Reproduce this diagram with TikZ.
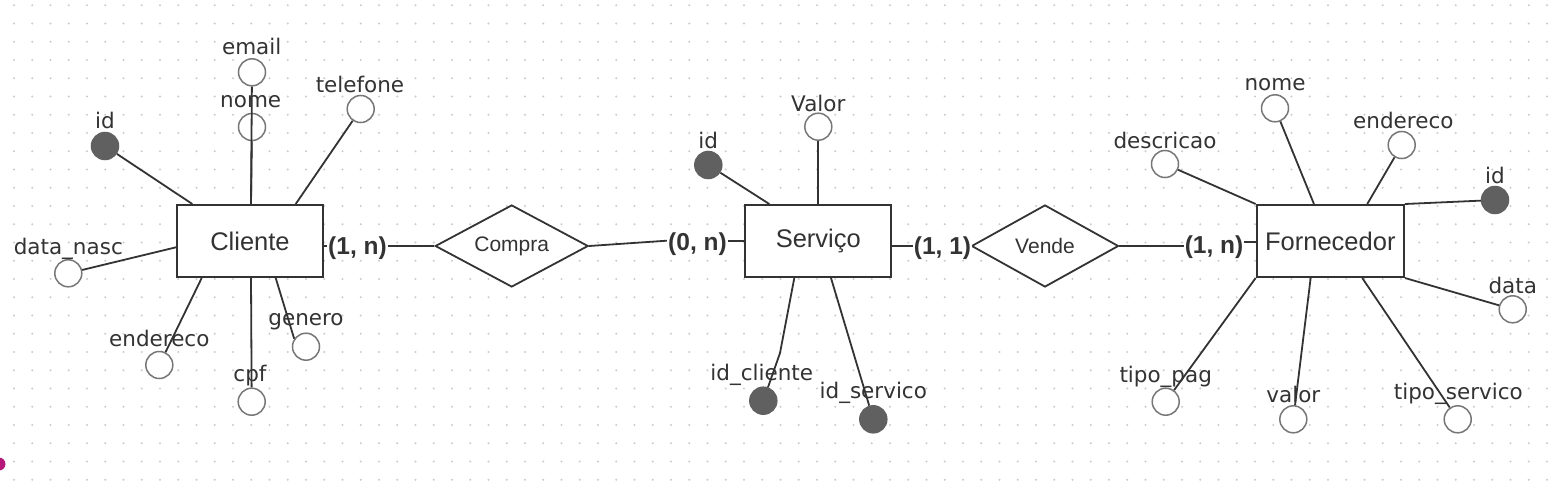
\documentclass[tikz,border=0pt]{standalone}
\usepackage{fontspec}
\setmainfont{Liberation Sans}
\newfontfamily\attrfont{DejaVu Sans}
\usetikzlibrary{shapes.geometric}
\definecolor{linec}{HTML}{333333}
\definecolor{circc}{HTML}{777777}
\definecolor{keyc}{HTML}{606060}
\definecolor{dotc}{HTML}{CCCCCC}
\definecolor{txtc}{HTML}{333333}
\definecolor{pinkc}{HTML}{B5197A}
\begin{document}
\begin{tikzpicture}[x=1pt,y=-1pt,
 entity/.style={draw=linec, line width=2pt, fill=white, minimum width=146pt, minimum height=72pt, inner sep=0pt, text=txtc, font=\fontsize{25.5}{30}\selectfont},
 relation/.style={diamond, draw=linec, line width=1.8pt, fill=white, aspect=1.87, inner sep=0pt, minimum height=82pt, text=txtc, font=\fontsize{21}{25}\selectfont},
 attr/.style={circle, draw=circc, line width=1.5pt, fill=white, minimum size=27pt, inner sep=0pt},
 keyattr/.style={attr, fill=keyc, draw=keyc},
 alabel/.style={inner sep=0pt, text=txtc, font=\attrfont\fontsize{21.5}{25}\selectfont},
 card/.style={fill=white, inner sep=1pt, text=txtc, font=\bfseries\fontsize{24.5}{28}\selectfont},
 link/.style={draw=linec, line width=1.8pt},
]
\useasboundingbox (0,0) rectangle (1558,498);
\fill[white] (0,0) rectangle (1558,498);
\foreach \i in {0,...,84} {\foreach \j in {0,...,26} {\fill[dotc] (14+\i*18.25, 5.2+\j*18.25) circle (1.1pt);}}
\fill[pinkc] (-1,464) circle (6.5pt);

% entities and relationships
\node[entity] (cliente) at (250,241) {Cliente};
\node[relation, minimum width=153pt] (compra) at (511.7,246) {Compra};
\node[entity] (servico) at (818.3,241) {Serviço};
\node[relation, minimum width=147pt] (vende) at (1045,246) {Vende};
\node[entity, minimum width=147.3pt] (forn) at (1330.3,241) {Fornecedor};

% Cliente attributes
\node[attr] (c_email) at (252,72.3) {};
\node[attr] (c_nome) at (252,127) {};
\node[attr] (c_tel) at (360.7,109) {};
\node[keyattr] (c_id) at (105,146) {};
\node[attr] (c_dn) at (68.3,273.3) {};
\node[attr] (c_end) at (159.3,365) {};
\node[attr] (c_cpf) at (251.7,401.7) {};
\node[attr] (c_gen) at (306,346.7) {};

% Servico attributes
\node[attr] (s_valor) at (818.3,126.7) {};
\node[keyattr] (s_id) at (708.3,165) {};
\node[keyattr] (s_idc) at (763.3,400.7) {};
\node[keyattr] (s_ids) at (873.3,419.3) {};

% Fornecedor attributes
\node[attr] (f_nome) at (1275,108.3) {};
\node[attr] (f_end) at (1401.7,145) {};
\node[attr] (f_desc) at (1165,164) {};
\node[keyattr] (f_id) at (1495,200) {};
\node[attr] (f_data) at (1512.7,309.3) {};
\node[attr] (f_tp) at (1165.7,401.7) {};
\node[attr] (f_valor) at (1293.3,419.3) {};
\node[attr] (f_ts) at (1457.7,419.3) {};

\coordinate (w1) at (666.7,240.7);
\coordinate (w2) at (1214,246);
\coordinate (w3) at (780,353);

% attribute links
\draw[link] ([xshift=75pt]cliente.north west) -- (c_nome);
\draw[link] ([xshift=75pt]cliente.north west) -- (c_email);
\draw[link] ([xshift=119.7pt]cliente.north west) -- (c_tel);
\draw[link] ([xshift=16.3pt]cliente.north west) -- (c_id);
\draw[link] ([yshift=-43.3pt]cliente.north west) -- (c_dn);
\draw[link] ([xshift=25.7pt]cliente.south west) -- (c_end);
\draw[link] ([xshift=75pt]cliente.south west) -- (c_cpf);
\draw[link] ([xshift=99.7pt]cliente.south west) -- (c_gen.146);

\draw[link] (servico.north) -- (s_valor);
\draw[link] ([xshift=25pt]servico.north west) -- (s_id);
\draw[link] ([xshift=50pt]servico.south west) -- (w3) -- (s_idc);
\draw[link] ([xshift=86.7pt]servico.south west) -- (s_ids);

\draw[link] ([xshift=58.3pt]forn.north west) -- (f_nome);
\draw[link] ([xshift=111.6pt]forn.north west) -- (f_end);
\draw[link] (forn.north west) -- (f_desc);
\draw[link] (forn.north east) -- (f_id);
\draw[link] (forn.south east) -- (f_data);
\draw[link] (forn.south west) -- (f_tp);
\draw[link] ([xshift=55pt]forn.south west) -- (f_valor);
\draw[link] ([xshift=106.6pt]forn.south west) -- (f_ts);

% relationship links
\draw[link] (cliente.east |- compra.west) -- (compra.west);
\draw[link] (compra.east) -- (w1) -- (servico.west);
\draw[link] (servico.east |- vende.west) -- (vende.west);
\draw[link] (vende.east) -- (w2) |- ([yshift=-1.3pt]forn.west);

% attribute labels
\node[alabel] (l_c_email) at (251.7,46.7) {email};
\node[alabel] (l_c_nome) at (250.7,101.7) {nome};
\node[alabel] (l_c_tel) at (360,84.3) {telefone};
\node[alabel] (l_c_id) at (105,120) {id};
\node[alabel] (l_c_dn) at (68.3,249.3) {data\_nasc};
\node[alabel] (l_c_end) at (159.3,338.3) {endereco};
\node[alabel] (l_c_cpf) at (250,376) {cpf};
\node[alabel] (l_c_gen) at (306,321.7) {genero};

\node[alabel] (l_s_valor) at (818.3,103.3) {Valor};
\node[alabel] (l_s_id) at (708.3,140) {id};
\node[alabel] (l_s_idc) at (761.7,375) {id\_cliente};
\node[alabel] (l_s_ids) at (873.3,393.3) {id\_servico};

\node[alabel] (l_f_nome) at (1275,85) {nome};
\node[alabel] (l_f_end) at (1403.3,120.7) {endereco};
\node[alabel] (l_f_desc) at (1165,140) {descricao};
\node[alabel] (l_f_id) at (1495,175) {id};
\node[alabel] (l_f_data) at (1512.7,285) {data};
\node[alabel] (l_f_tp) at (1165.7,377.3) {tipo\_pag};
\node[alabel] (l_f_valor) at (1293.3,394.3) {valor};
\node[alabel] (l_f_ts) at (1458.3,394.3) {tipo\_servico};

% cardinalities
\node[card] (k1) at (357.5,248) {(1, n)};
\node[card] (k2) at (697.5,244) {(0, n)};
\node[card] (k3) at (942.5,248) {(1, 1)};
\node[card] (k4) at (1214,247) {(1, n)};
\end{tikzpicture}
\end{document}
